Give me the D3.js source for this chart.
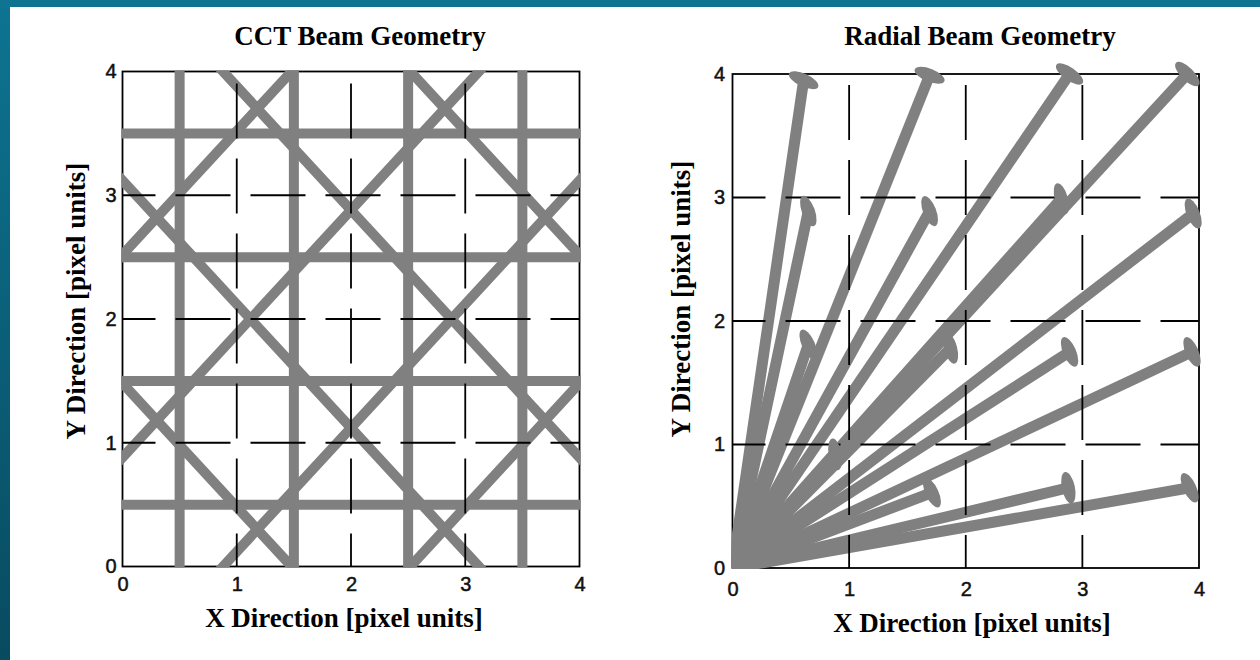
<!DOCTYPE html>
<html>
<head>
<meta charset="utf-8">
<script src="https://cdn.jsdelivr.net/npm/d3@7"></script>
<style>
  body { margin: 0; background: #fff; }
  svg { display: block; }
  .title, .axis-title { font-family: "Liberation Serif", "Times New Roman", serif; font-weight: bold; font-size: 27px; fill: #000; }
</style>
</head>
<body>
<svg id="chart" width="1260" height="660"></svg>
<script>
// ticks shared by both panels
var ticks = [0, 1, 2, 3, 4];
var gridTicks = [1, 2, 3];

// CCT geometry (pixel units)
var cctRows = [0.5, 1.5, 2.5, 3.5];        // horizontal beams, y
var cctCols = [0.5, 1.5, 2.5, 3.5];        // vertical beams, x
var cctRise = [2.52, 0.88, -0.88, -2.52];  // diagonal beams y = x + b
var cctFall = [6.52, 4.88, 3.12, 1.48];    // diagonal beams y = -x + c

// Radial geometry: end of each beam (beams start at the origin)
var radialX = [0.61, 1.69, 2.89, 3.90,
               0.65, 1.69, 2.82, 3.95,
               0.65, 1.87, 2.89, 3.94,
               0.88, 1.71, 2.88, 3.92];
var radialY = [3.95, 3.99, 4.00, 4.00,
               2.89, 2.89, 2.99, 2.87,
               1.81, 1.78, 1.75, 1.75,
               0.92, 0.61, 0.65, 0.65];
// tilt of the detector ellipse at each end, degrees
var radialTilt = [155, 158, 145, 135,
                  110, 111, 106, 112,
                  114, 105, 113, 113,
                  100, 115, 102, 115];

var svg = d3.select("#chart");

// background frame
var defs = svg.append("defs");
var bg = defs.append("linearGradient")
    .attr("id", "bg")
    .attr("x1", 0).attr("y1", 0).attr("x2", 0).attr("y2", 1);
bg.append("stop").attr("offset", "0%").attr("stop-color", "#0d7491");
bg.append("stop").attr("offset", "100%").attr("stop-color", "#084b60");
svg.append("rect").attr("width", 1260).attr("height", 660).attr("fill", "url(#bg)");
svg.append("rect").attr("x", 10).attr("y", 7).attr("width", 1250).attr("height", 653).attr("fill", "#fff");

var beamColor = "#808080";

function panel(cfg) {
    var x = d3.scaleLinear().domain([0, 4]).range(cfg.xr);
    var y = d3.scaleLinear().domain([0, 4]).range(cfg.yr);
    var g = svg.append("g");

    defs.append("clipPath").attr("id", cfg.id)
        .append("rect")
        .attr("x", x(0) - 1).attr("y", y(4) - 1)
        .attr("width", x(4) - x(0) + 2).attr("height", y(0) - y(4) + 2);

    // frame
    g.append("rect")
        .attr("x", x(0)).attr("y", y(4))
        .attr("width", x(4) - x(0)).attr("height", y(0) - y(4))
        .attr("fill", "none").attr("stroke", "#000").attr("stroke-width", 1.8);

    // axes (labels only)
    g.append("g")
        .attr("class", "x axis")
        .attr("transform", "translate(0," + y(0) + ")")
        .call(d3.axisBottom(x).tickValues(ticks).tickFormat(d3.format("d")).tickSize(0).tickPadding(cfg.xPad));
    g.append("g")
        .attr("class", "y axis")
        .attr("transform", "translate(" + x(0) + ",0)")
        .call(d3.axisLeft(y).tickValues(ticks).tickFormat(d3.format("d")).tickSize(0).tickPadding(cfg.yPad));
    g.selectAll(".axis .domain").remove();
    g.selectAll(".axis")
        .attr("font-family", "'Liberation Sans', Arial, sans-serif")
        .attr("font-size", 20);
    g.selectAll(".tick text")
        .attr("fill", "#111").attr("stroke", "#111").attr("stroke-width", 0.5);

    var beams = g.append("g").attr("clip-path", "url(#" + cfg.id + ")");
    cfg.draw(beams, x, y);

    // dashed grid on top of the beams
    var grid = g.append("g")
        .attr("stroke", "#000").attr("stroke-width", 1.8)
        .attr("stroke-dasharray", "55,20").attr("stroke-dashoffset", 22);
    grid.selectAll(".gx").data(gridTicks).enter().append("line")
        .attr("x1", function (d) { return x(d); }).attr("x2", function (d) { return x(d); })
        .attr("y1", y(0)).attr("y2", y(4));
    grid.selectAll(".gy").data(gridTicks).enter().append("line")
        .attr("x1", x(0)).attr("x2", x(4))
        .attr("y1", function (d) { return y(d); }).attr("y2", function (d) { return y(d); });

    if (cfg.after) cfg.after(g, x, y);

    // titles
    g.append("text").attr("class", "title")
        .attr("x", cfg.titleX).attr("y", 45).attr("text-anchor", "middle")
        .text(cfg.title);
    g.append("text").attr("class", "axis-title")
        .attr("x", cfg.xLabelX).attr("y", cfg.xLabelY).attr("text-anchor", "middle")
        .text("X Direction [pixel units]");
    g.append("text").attr("class", "axis-title")
        .attr("transform", "translate(" + cfg.yLabelX + "," + cfg.yLabelY + ") rotate(-90)")
        .attr("text-anchor", "middle")
        .text("Y Direction [pixel units]");
}

// CCT panel
panel({
    id: "clipL", xr: [122.5, 579.5], yr: [566.5, 71.5], xPad: 10, yPad: 6,
    title: "CCT Beam Geometry", titleX: 360,
    xLabelX: 344, xLabelY: 627, yLabelX: 85, yLabelY: 301,
    draw: function (b, x, y) {
        var s = b.append("g").attr("stroke", beamColor).attr("stroke-width", 10);
        s.selectAll(".row").data(cctRows).enter().append("line")
            .attr("x1", x(-0.2)).attr("x2", x(4.2))
            .attr("y1", function (d) { return y(d); }).attr("y2", function (d) { return y(d); });
        s.selectAll(".col").data(cctCols).enter().append("line")
            .attr("y1", y(-0.2)).attr("y2", y(4.2))
            .attr("x1", function (d) { return x(d); }).attr("x2", function (d) { return x(d); });
        s.selectAll(".rise").data(cctRise).enter().append("line")
            .attr("x1", x(-1)).attr("y1", function (d) { return y(-1 + d); })
            .attr("x2", x(5)).attr("y2", function (d) { return y(5 + d); });
        s.selectAll(".fall").data(cctFall).enter().append("line")
            .attr("x1", x(-1)).attr("y1", function (d) { return y(1 + d); })
            .attr("x2", x(5)).attr("y2", function (d) { return y(-5 + d); });
    }
});

// Radial panel
var ends = radialX.map(function (v, i) { return { x: v, y: radialY[i], tilt: radialTilt[i] }; });
panel({
    id: "clipR", xr: [732.5, 1199], yr: [568, 74], xPad: 14, yPad: 7.5,
    title: "Radial Beam Geometry", titleX: 980,
    xLabelX: 972, xLabelY: 632, yLabelX: 690, yLabelY: 299,
    draw: function (b, x, y) {
        b.append("g").attr("stroke", beamColor).attr("stroke-width", 11)
            .selectAll("line").data(ends).enter().append("line")
            .attr("x1", x(0)).attr("y1", y(0))
            .attr("x2", function (d) { return x(d.x); })
            .attr("y2", function (d) { return y(d.y); });
    },
    after: function (g, x, y) {
        g.append("g").attr("fill", beamColor)
            .selectAll("ellipse").data(ends).enter().append("ellipse")
            .attr("rx", 16).attr("ry", 6.5)
            .attr("transform", function (d) {
                return "translate(" + x(d.x) + "," + y(d.y) + ") rotate(" + (-d.tilt) + ")";
            });
    }
});
</script>
</body>
</html>
